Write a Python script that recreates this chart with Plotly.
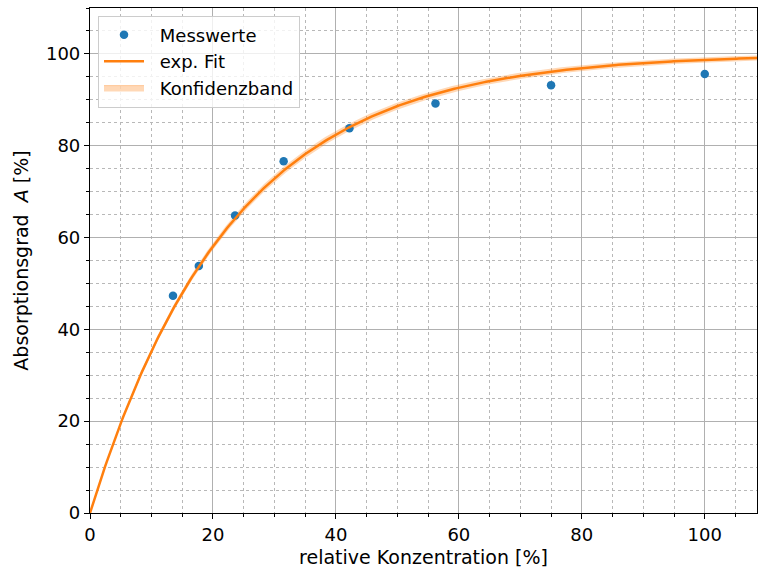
import numpy as np
import plotly.graph_objects as go

# Messwerte
konz = [13.5, 17.7, 23.6, 31.5, 42.2, 56.2, 75.0, 100.0]
absorption = [47.3, 53.8, 64.8, 76.6, 83.8, 89.2, 93.2, 95.6]

# Fit parameters A = a * (1 - exp(-x/b))
fit_a = 100.0
fit_b = 23.0
fit_da = 0.5
fit_db = 0.3

x_fit = np.linspace(0, 108.5, 400)
y_fit = fit_a * (1 - np.exp(-x_fit / fit_b))
y_up = (fit_a + fit_da) * (1 - np.exp(-x_fit / (fit_b - fit_db)))
y_lo = (fit_a - fit_da) * (1 - np.exp(-x_fit / (fit_b + fit_db)))

blue = "#1f77b4"
orange = "#ff7f0e"
font = "DejaVu Sans"
pad = "\u2009\u2009\u2009"

fig = go.Figure()
fig.add_trace(go.Scatter(x=x_fit, y=y_lo, mode="lines", line=dict(width=0),
                         showlegend=False, hoverinfo="skip"))
fig.add_trace(go.Scatter(x=x_fit, y=y_up, mode="lines", line=dict(width=0),
                         fill="tonexty", fillcolor="rgba(255,127,14,0.3)",
                         showlegend=False, hoverinfo="skip"))
fig.add_trace(go.Scatter(x=konz, y=absorption, mode="markers", name=pad + "Messwerte",
                         marker=dict(color=blue, size=8.5)))
fig.add_trace(go.Scatter(x=x_fit, y=y_fit, mode="lines", name=pad + "exp. Fit",
                         line=dict(color=orange, width=2.5)))
# legend-only entry for band
fig.add_trace(go.Scatter(x=[None], y=[None], mode="lines", name=pad + "Konfidenzband",
                         fill="toself", fillcolor="rgba(255,127,14,0.3)",
                         line=dict(color="rgba(255,127,14,0.3)", width=1)))

axis_common = dict(
    showline=True, linecolor="black", linewidth=1.2, mirror=True,
    ticks="outside", ticklen=5, tickwidth=1, tickcolor="black",
    showgrid=True, gridcolor="#b0b0b0", gridwidth=1,
    zeroline=False, automargin=False,
    tickfont=dict(family=font, size=18, color="black"),
)
minor_common = dict(ticks="outside", ticklen=3, tickcolor="black", showgrid=True,
                    gridcolor="#b8b8b8", griddash="dot", gridwidth=1, dtick=5)

fig.update_layout(
    width=758, height=574,
    margin=dict(l=90, r=1, t=8, b=61, autoexpand=False),
    paper_bgcolor="white", plot_bgcolor="white",
    font=dict(family=font, size=18, color="black"),
    xaxis=dict(range=[0, 108.5], dtick=20, tick0=0, minor=minor_common,
               title=dict(text="relative Konzentration [%]", standoff=6,
                          font=dict(family=font, size=19)),
               **axis_common),
    yaxis=dict(range=[0, 110], dtick=20, tick0=0, minor=minor_common,
               title=dict(text="Absorptionsgrad  <i>A</i> [%]", standoff=12,
                          font=dict(family=font, size=19)),
               **axis_common),
    legend=dict(x=0.012, y=0.985, xanchor="left", yanchor="top",
                traceorder="normal",
                bgcolor="rgba(255,255,255,0.8)", bordercolor="#cccccc", borderwidth=1,
                font=dict(family=font, size=18), itemwidth=40),
    showlegend=True,
)

fig.write_html("out.html", config={"displayModeBar": False},
               post_script="document.body.style.margin='0';document.body.style.overflow='hidden';")
